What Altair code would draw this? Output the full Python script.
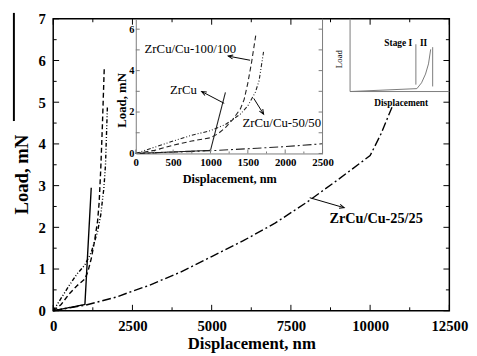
import math
import altair as alt
import pandas as pd

# ---------------- data ----------------
SERIES = ["ZrCu", "ZrCu/Cu-100/100", "ZrCu/Cu-50/50", "ZrCu/Cu-25/25"]

zrcu_x = [0, 1000, 1200]
zrcu_y = [0, 0.15, 2.95]

c100_x = [0, 250, 500, 750, 1000, 1100, 1200, 1300, 1400, 1450, 1500, 1550, 1610]
c100_y = [0, 0.15, 0.40, 0.60, 0.76, 0.95, 1.25, 1.65, 2.15, 2.60, 3.40, 4.40, 5.80]

c50_x = [0, 250, 500, 750, 1000, 1200, 1400, 1500, 1600, 1650, 1680, 1710]
c50_y = [0, 0.30, 0.60, 0.88, 1.10, 1.40, 1.90, 2.30, 2.95, 3.50, 4.20, 4.90]

c25_x = [0, 1000, 2000, 2500, 3000, 4000, 5000, 6000, 7000, 8000, 9000, 10000, 10350, 10700]
c25_y = [0, 0.13, 0.33, 0.47, 0.60, 0.92, 1.30, 1.68, 2.10, 2.60, 3.15, 3.72, 4.25, 4.90]

main_x_major = [0, 2500, 5000, 7500, 10000, 12500]
main_x_minor = [1250, 3750, 6250, 8750, 11250]
main_y_major = [0, 1, 2, 3, 4, 5, 6, 7]
main_y_minor = [0.5, 1.5, 2.5, 3.5, 4.5, 5.5, 6.5]

inset_x_major = [0, 500, 1000, 1500, 2000, 2500]
inset_x_minor = [250, 750, 1250, 1750, 2250]
inset_y_labels = [0, 2, 4, 6]
inset_y_ticks = [0, 1, 2, 3, 4, 5, 6]

# inset annotations (inset units: nm, mN)
inset_text = ["ZrCu/Cu-100/100", "ZrCu", "ZrCu/Cu-50/50"]
inset_text_x = [730, 638, 1954]
inset_text_y = [5.03, 3.08, 1.47]
inset_arrow_x0 = [1530, 1184, 1579]
inset_arrow_y0 = [4.50, 2.42, 2.66]
inset_arrow_x1 = [1237, 882, 1711]
inset_arrow_y1 = [4.70, 2.99, 1.90]

# main annotation
main_text = ["ZrCu/Cu-25/25"]
main_text_x = [10189]
main_text_y = [2.19]
main_arrow_x0 = [8095]
main_arrow_y0 = [2.71]
main_arrow_x1 = [9181]
main_arrow_y1 = [2.47]

# schematic inset (relative units 0..100)
sch_seg = ["frameL", "frameL", "frameB", "frameB", "base", "base",
           "rise", "rise", "rise", "rise", "rise", "v1", "v1", "v2", "v2"]
sch_x = [0, 0, 0, 100, 0, 67.3, 67.3, 72, 76, 79, 81.2, 66.3, 66.3, 83.2, 83.2]
sch_y = [0, 100, 0, 0, 0, 4, 4, 12, 24, 38, 58, 9.5, 65, 7, 61]
sch_text = ["Stage I", "II", "Displacement"]
sch_text_x = [48.5, 74, 51.5]
sch_text_y = [66, 66, -16]
sch_ylabel = ["Load"]
sch_ylabel_x = [-11]
sch_ylabel_y = [44.6]

# ---------------- layout ----------------
W, H = 403, 297
MX, MY = [0, 12500], [0, 7]
IX_DOM, IX_RNG = [0, 2500], [84, 274]
IY_DOM, IY_RNG = [0, 6.5], [137, 0]
S_DOM, SX_RNG, SY_RNG = [0, 100], [302, 403], [74, 0]
SERIF = "Liberation Serif"
GRAY = "#7a7a7a"
DASHES = [[1, 0], [5, 3], [4, 2, 1, 2, 1, 2], [9, 3, 2, 3]]
CHEVRON = "M -0.55 1.3 L 0 0 L 0.55 1.3"


def sc(dom, rng):
    return alt.Scale(domain=dom, range=rng, nice=False, zero=False)


def lin(v, dom, rng):
    return rng[0] + (v - dom[0]) / (dom[1] - dom[0]) * (rng[1] - rng[0])


def angles(x0, y0, x1, y1, xd, xr, yd, yr):
    out = []
    for a, b, c, d in zip(x0, y0, x1, y1):
        dx = lin(c, xd, xr) - lin(a, xd, xr)
        dy = lin(d, yd, yr) - lin(b, yd, yr)
        out.append(math.degrees(math.atan2(dx, -dy)) % 360)
    return out


rows = []
for name, xs, ys in [("ZrCu", zrcu_x, zrcu_y), ("ZrCu/Cu-100/100", c100_x, c100_y),
                     ("ZrCu/Cu-50/50", c50_x, c50_y), ("ZrCu/Cu-25/25", c25_x, c25_y)]:
    for i, (a, b) in enumerate(zip(xs, ys)):
        rows.append({"series": name, "x": a, "y": b, "i": i})
curves = pd.DataFrame(rows)

dash = alt.StrokeDash("series:N", scale=alt.Scale(domain=SERIES, range=DASHES), legend=None)

main_x_axis = alt.Axis(orient="bottom", values=main_x_major, format="d", ticks=False, domain=False, grid=False,
                       labelFont=SERIF, labelFontWeight="bold", labelFontSize=15, labelColor="black",
                       labelPadding=8, labelFlush=False, labelOverlap=False,
                       title="Displacement, nm", titleFont=SERIF, titleFontWeight="bold",
                       titleFontSize=17, titleColor="black", titleY=38, titleBaseline="alphabetic")
main_y_axis = alt.Axis(orient="left", values=main_y_major, format="d", ticks=False, domain=False, grid=False,
                       labelFont=SERIF, labelFontWeight="bold", labelFontSize=15, labelColor="black",
                       labelPadding=8, labelFlush=False, labelOverlap=False,
                       title="Load, mN", titleFont=SERIF, titleFontWeight="bold", titleFontSize=19,
                       titleColor="black", titleAngle=270, titleX=-26.5, titleY=158,
                       titleBaseline="alphabetic")

main_lines = alt.Chart(curves).mark_line(color="black", strokeWidth=1.4).encode(
    x=alt.X("x:Q", scale=sc(MX, [0, W]), axis=main_x_axis),
    y=alt.Y("y:Q", scale=sc(MY, [H, 0]), axis=main_y_axis),
    strokeDash=dash, detail="series:N", order="i:Q")

inset_x_axis = alt.Axis(orient="bottom", offset=-(H - IY_RNG[0]), values=inset_x_major, format="d",
                        ticks=False, domain=True, domainColor=GRAY, domainWidth=1, grid=False,
                        labelFont=SERIF, labelFontWeight="bold", labelFontSize=11, labelColor="black",
                        labelPadding=3, labelFlush=False, labelOverlap=False,
                        title="Displacement, nm", titleFont=SERIF, titleFontWeight="bold",
                        titleFontSize=12.5, titleColor="black", titleY=30, titleBaseline="alphabetic")
inset_y_axis = alt.Axis(orient="left", offset=-IX_RNG[0], values=inset_y_labels, format="d", ticks=False,
                        domain=True, domainColor=GRAY, domainWidth=1, grid=False,
                        labelFont=SERIF, labelFontWeight="bold", labelFontSize=10.5, labelColor="black",
                        labelPadding=2, labelFlush=False, labelOverlap=False,
                        title="Load, mN", titleFont=SERIF, titleFontWeight="bold", titleFontSize=13,
                        titleColor="black", titleAngle=270, titleX=-10, titleY=82.5,
                        titleBaseline="alphabetic")

inset_lines = alt.Chart(curves).transform_filter("datum.x <= 2500").mark_line(
    color="#222222", strokeWidth=1.1).encode(
    x=alt.X("x:Q", scale=sc(IX_DOM, IX_RNG), axis=inset_x_axis),
    y=alt.Y("y:Q", scale=sc(IY_DOM, IY_RNG), axis=inset_y_axis),
    strokeDash=dash, detail="series:N", order="i:Q")


def xrules(vals, dom, rng, y0, y1, color="black"):
    return alt.Chart(pd.DataFrame({"v": vals})).mark_rule(color=color, strokeWidth=1).encode(
        x=alt.X("v:Q", scale=sc(dom, rng), axis=None), y=alt.value(y0), y2=alt.value(y1))


def yrules(vals, dom, rng, x0, x1, color="black"):
    return alt.Chart(pd.DataFrame({"v": vals})).mark_rule(color=color, strokeWidth=1).encode(
        y=alt.Y("v:Q", scale=sc(dom, rng), axis=None), x=alt.value(x0), x2=alt.value(x1))


tick_layers = [
    xrules(main_x_major, MX, [0, W], H, H - 6), xrules(main_x_minor, MX, [0, W], H, H - 3.5),
    xrules(main_x_major, MX, [0, W], 0, 6), xrules(main_x_minor, MX, [0, W], 0, 3.5),
    yrules(main_y_major, MY, [H, 0], 0, 6), yrules(main_y_minor, MY, [H, 0], 0, 3.5),
    yrules(main_y_major, MY, [H, 0], W, W - 6), yrules(main_y_minor, MY, [H, 0], W, W - 3.5),
    xrules(inset_x_major, IX_DOM, IX_RNG, IY_RNG[0], IY_RNG[0] - 4, GRAY),
    xrules(inset_x_minor, IX_DOM, IX_RNG, IY_RNG[0], IY_RNG[0] - 2, GRAY),
    yrules(inset_y_ticks, IY_DOM, IY_RNG, IX_RNG[0], IX_RNG[0] + 4, GRAY),
    yrules(inset_y_ticks, IY_DOM, IY_RNG, IX_RNG[1], IX_RNG[1] - 4, GRAY),
    xrules([IX_DOM[1]], IX_DOM, IX_RNG, IY_RNG[1], IY_RNG[0], GRAY),
]

# inset annotations
ia = pd.DataFrame({"t": inset_text, "x": inset_text_x, "y": inset_text_y})
inset_txt = alt.Chart(ia).mark_text(font=SERIF, fontSize=13, color="black", baseline="middle").encode(
    x=alt.X("x:Q", scale=sc(IX_DOM, IX_RNG), axis=None),
    y=alt.Y("y:Q", scale=sc(IY_DOM, IY_RNG), axis=None), text="t:N")
iar = pd.DataFrame({"x0": inset_arrow_x0, "y0": inset_arrow_y0, "x1": inset_arrow_x1, "y1": inset_arrow_y1,
                    "ang": angles(inset_arrow_x0, inset_arrow_y0, inset_arrow_x1, inset_arrow_y1,
                                  IX_DOM, IX_RNG, IY_DOM, IY_RNG)})
inset_shaft = alt.Chart(iar).mark_rule(color="black", strokeWidth=1).encode(
    x=alt.X("x0:Q", scale=sc(IX_DOM, IX_RNG), axis=None), x2="x1:Q",
    y=alt.Y("y0:Q", scale=sc(IY_DOM, IY_RNG), axis=None), y2="y1:Q")
inset_head = alt.Chart(iar).mark_point(shape=CHEVRON, filled=False, size=55, color="black",
                                       strokeWidth=1, opacity=1).encode(
    x=alt.X("x1:Q", scale=sc(IX_DOM, IX_RNG), axis=None),
    y=alt.Y("y1:Q", scale=sc(IY_DOM, IY_RNG), axis=None),
    angle=alt.Angle("ang:Q", scale=None))

# main annotation
ma = pd.DataFrame({"t": main_text, "x": main_text_x, "y": main_text_y})
main_txt = alt.Chart(ma).mark_text(font=SERIF, fontSize=14.5, fontWeight="bold", color="black",
                                   baseline="middle").encode(
    x=alt.X("x:Q", scale=sc(MX, [0, W]), axis=None),
    y=alt.Y("y:Q", scale=sc(MY, [H, 0]), axis=None), text="t:N")
mar = pd.DataFrame({"x0": main_arrow_x0, "y0": main_arrow_y0, "x1": main_arrow_x1, "y1": main_arrow_y1,
                    "ang": angles(main_arrow_x0, main_arrow_y0, main_arrow_x1, main_arrow_y1,
                                  MX, [0, W], MY, [H, 0])})
main_shaft = alt.Chart(mar).mark_rule(color="black", strokeWidth=1).encode(
    x=alt.X("x0:Q", scale=sc(MX, [0, W]), axis=None), x2="x1:Q",
    y=alt.Y("y0:Q", scale=sc(MY, [H, 0]), axis=None), y2="y1:Q")
main_head = alt.Chart(mar).mark_point(shape=CHEVRON, filled=False, size=55, color="black",
                                      strokeWidth=1, opacity=1).encode(
    x=alt.X("x1:Q", scale=sc(MX, [0, W]), axis=None),
    y=alt.Y("y1:Q", scale=sc(MY, [H, 0]), axis=None),
    angle=alt.Angle("ang:Q", scale=None))

# schematic inset
sdf = pd.DataFrame({"seg": sch_seg, "x": sch_x, "y": sch_y, "k": list(range(len(sch_x)))})
sch_lines = alt.Chart(sdf).mark_line(color=GRAY, strokeWidth=1).encode(
    x=alt.X("x:Q", scale=sc(S_DOM, SX_RNG), axis=None),
    y=alt.Y("y:Q", scale=sc(S_DOM, SY_RNG), axis=None),
    detail="seg:N", order="k:Q")
stx = pd.DataFrame({"t": sch_text, "x": sch_text_x, "y": sch_text_y})
sch_txt = alt.Chart(stx).mark_text(font=SERIF, fontSize=9.5, fontWeight="bold", color="black",
                                   baseline="middle").encode(
    x=alt.X("x:Q", scale=sc(S_DOM, SX_RNG), axis=None),
    y=alt.Y("y:Q", scale=sc(S_DOM, SY_RNG), axis=None), text="t:N")
sly = pd.DataFrame({"t": sch_ylabel, "x": sch_ylabel_x, "y": sch_ylabel_y})
sch_ylab = alt.Chart(sly).mark_text(font=SERIF, fontSize=9, color="black", angle=270,
                                    baseline="middle").encode(
    x=alt.X("x:Q", scale=sc(S_DOM, SX_RNG), axis=None),
    y=alt.Y("y:Q", scale=sc(S_DOM, SY_RNG), axis=None), text="t:N")

artifact = alt.Chart(pd.DataFrame({"a": [0]})).mark_rule(color="black", strokeWidth=2).encode(
    x=alt.value(-40), y=alt.value(-6), y2=alt.value(104))

chart = alt.layer(
    main_lines, inset_lines, *tick_layers, inset_txt, inset_shaft, inset_head,
    main_txt, main_shaft, main_head, sch_lines, sch_txt, sch_ylab, artifact
).resolve_scale(x="independent", y="independent").properties(
    width=W, height=H,
    autosize=alt.AutoSizeParams(type="none"),
    padding={"left": 46, "top": 8, "right": 20, "bottom": 40},
).configure_view(stroke="black", strokeWidth=1.5).configure_axis(
    grid=False, labelFont=SERIF, titleFont=SERIF
).configure_text(font=SERIF)

chart.save("out.html", embed_options={"renderer": "svg", "actions": False})
